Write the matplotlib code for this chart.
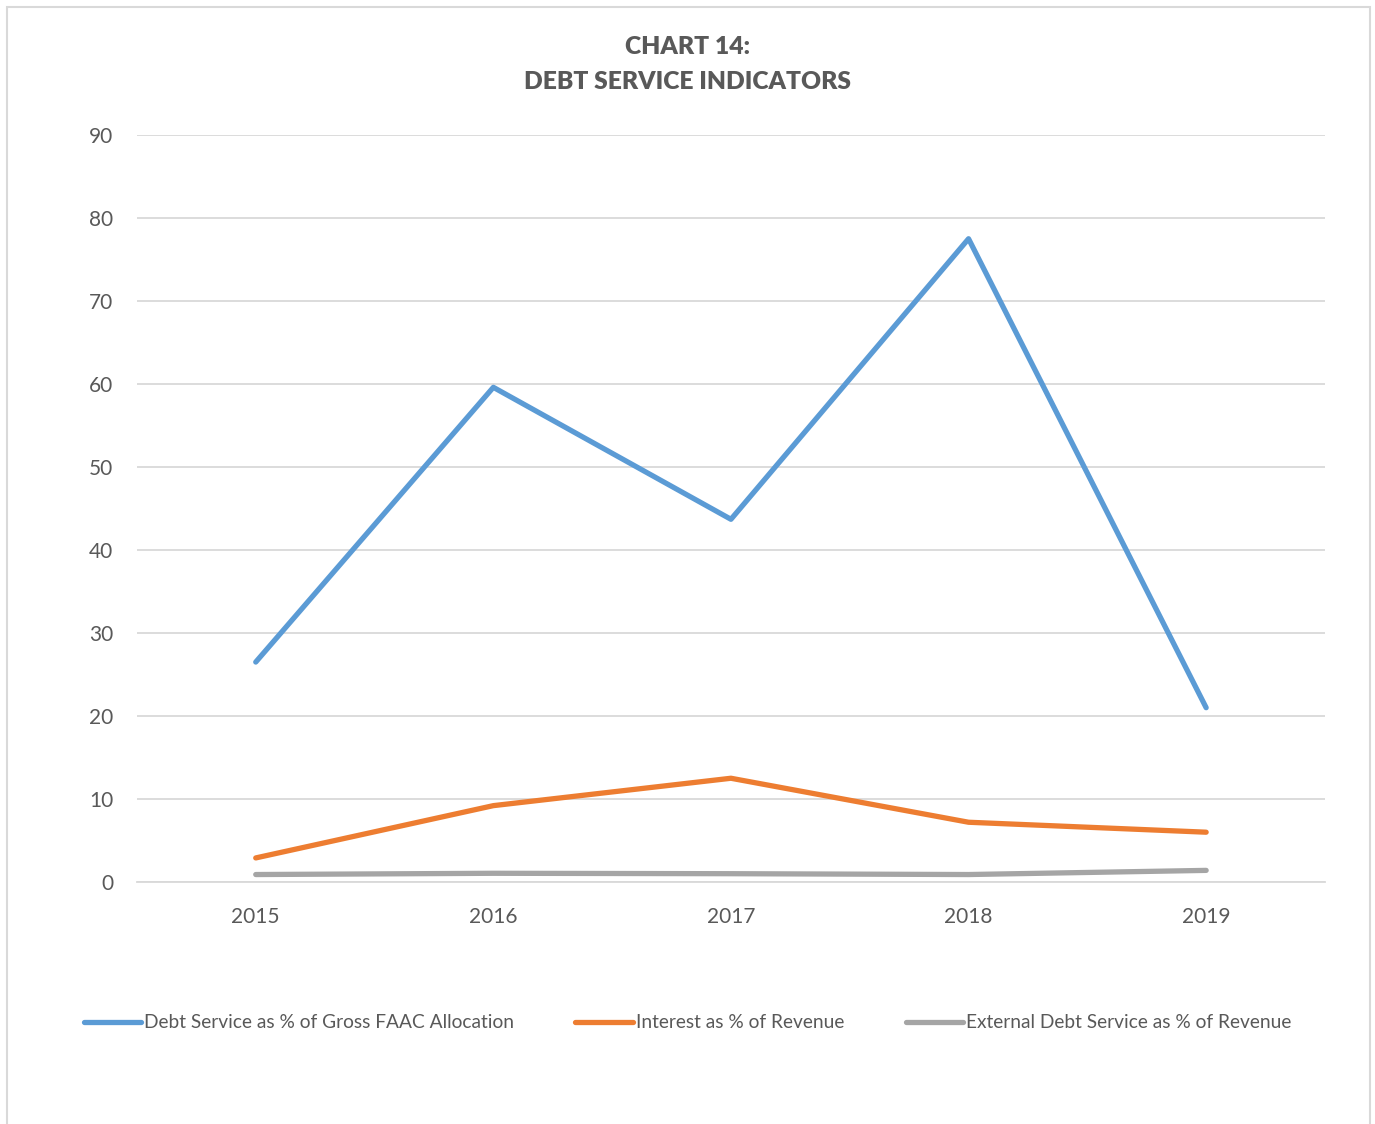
import matplotlib.pyplot as plt
from matplotlib.patches import Rectangle

years = ['2015', '2016', '2017', '2018', '2019']
debt_service_faac = [26.5, 59.6, 43.7, 77.5, 21.0]
interest_revenue = [2.9, 9.2, 12.5, 7.2, 6.0]
external_debt_revenue = [0.9, 1.05, 1.0, 0.9, 1.4]

series_names = ['Debt Service as % of Gross FAAC Allocation',
                'Interest as % of Revenue',
                'External Debt Service as % of Revenue']
colors = ['#5b9bd5', '#ed7d31', '#a5a5a5']

plt.rcParams['font.family'] = ['Lato', 'DejaVu Sans']
text_color = '#595959'

fig = plt.figure(figsize=(13.75, 11.24), dpi=100)
ax = fig.add_axes([0.0996, 0.2153, 0.864, 0.6646])

x = range(len(years))
for vals, name, c in zip([debt_service_faac, interest_revenue, external_debt_revenue],
                         series_names, colors):
    ax.plot(x, vals, color=c, lw=3.8, label=name, solid_capstyle='round')

ax.set_xlim(-0.5, len(years) - 0.5)
ax.set_ylim(0, 90)
ax.set_yticks(range(0, 91, 10))
ax.set_xticks(list(x))
ax.set_xticklabels(years)
ax.grid(axis='y', color='#d9d9d9', lw=1.3)
ax.set_axisbelow(True)
for s in ['top', 'right', 'left']:
    ax.spines[s].set_visible(False)
ax.spines['bottom'].set_color('#d9d9d9')
ax.spines['bottom'].set_linewidth(1.3)
ax.tick_params(length=0, labelsize=15, labelcolor=text_color)
ax.tick_params(axis='y', pad=17)
ax.tick_params(axis='x', pad=18)

fig.text(0.5, 0.958, 'CHART 14:', ha='center', va='center',
         fontsize=17.7, fontweight='heavy', color=text_color)
fig.text(0.5, 0.927, 'DEBT SERVICE INDICATORS', ha='center', va='center',
         fontsize=17.7, fontweight='heavy', color=text_color)

fig.legend(loc='center', bbox_to_anchor=(0.5, 0.09), ncol=3, frameon=False,
           fontsize=13.8, handlelength=3.0, handletextpad=0.15, columnspacing=3.2,
           labelcolor=text_color)

fig.patches.append(Rectangle((7 / 1375, -0.01), 1363 / 1375, 1 - 7 / 1124 + 0.01,
                             transform=fig.transFigure, fill=False,
                             edgecolor='#d9d9d9', lw=1.5))

fig.savefig('out.png', dpi=100)
